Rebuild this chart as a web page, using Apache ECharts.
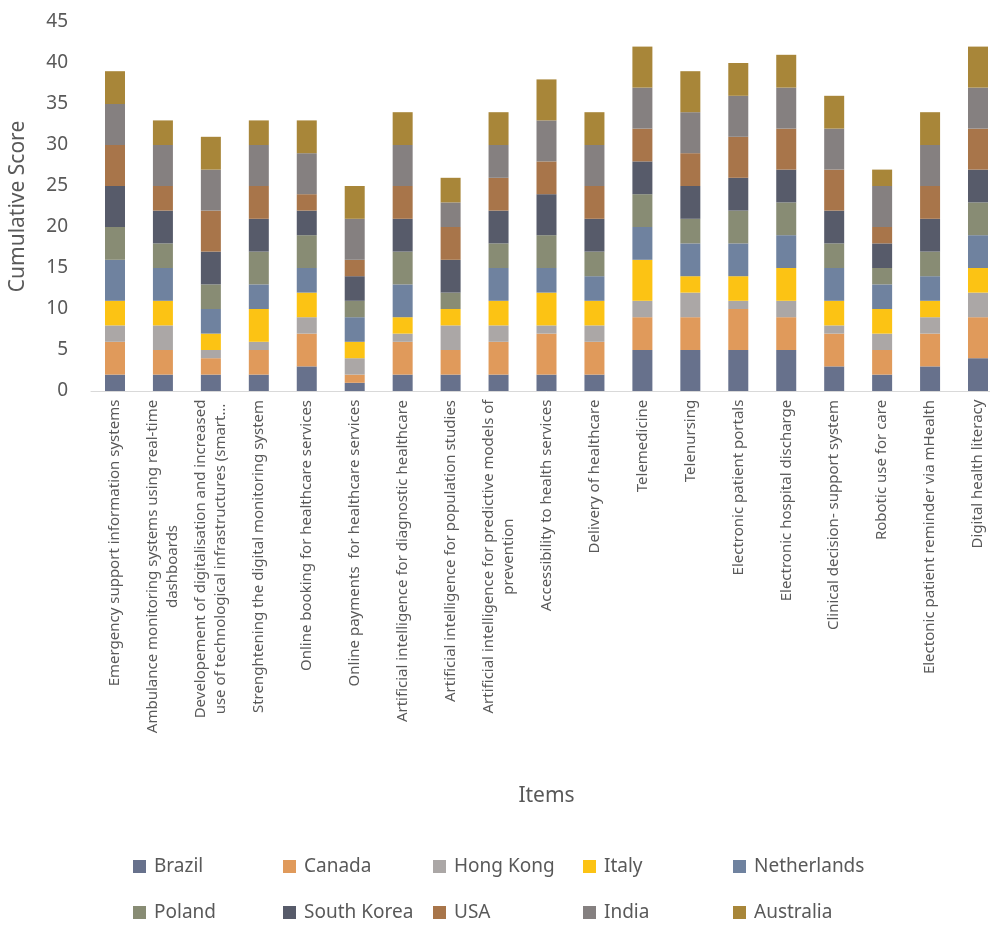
<!DOCTYPE html>
<html><head><meta charset="utf-8">
<script src="https://cdn.jsdelivr.net/npm/echarts@6/dist/echarts.min.js"></script>
<style>html,body{margin:0;padding:0;background:#fff;overflow:hidden}#c{width:1002px;height:927px}</style>
</head><body><div id="c"></div>
<script>
const categories = [
  "Emergency support information systems",
  "Ambulance monitoring systems using real-time\ndashboards",
  "Developement of digitalisation and increased\nuse of technological infrastructures (smart\u2026",
  "Strenghtening the digital monitoring system",
  "Online booking for healthcare services",
  "Online payments  for healthcare services",
  "Artificial intelligence for diagnostic healthcare",
  "Artificial intelligence for population studies",
  "Artificial intelligence for predictive models of\nprevention",
  "Accessibility to health services",
  "Delivery of healthcare",
  "Telemedicine",
  "Telenursing",
  "Electronic patient portals",
  "Electronic hospital discharge",
  "Clinical decision- support system",
  "Robotic use for care",
  "Electonic patient reminder via mHealth",
  "Digital health literacy"
];
const seriesNames = ["Brazil","Canada","Hong Kong","Italy","Netherlands","Poland","South Korea","USA","India","Australia"];
const brazil      = [2,2,2,2,3,1,2,2,2,2,2,5,5,5,5,3,2,3,4];
const canada      = [4,3,2,3,4,1,4,3,4,5,4,4,4,5,4,4,3,4,5];
const hongKong    = [2,3,1,1,2,2,1,3,2,1,2,2,3,1,2,1,2,2,3];
const italy       = [3,3,2,4,3,2,2,2,3,4,3,5,2,3,4,3,3,2,3];
const netherlands = [5,4,3,3,3,3,4,0,4,3,3,4,4,4,4,4,3,3,4];
const poland      = [4,3,3,4,4,2,4,2,3,4,3,4,3,4,4,3,2,3,4];
const southKorea  = [5,4,4,4,3,3,4,4,4,5,4,4,4,4,4,4,3,4,4];
const usa         = [5,3,5,4,2,2,4,4,4,4,4,4,4,5,5,5,2,4,5];
const india       = [5,5,5,5,5,5,5,3,4,5,5,5,5,5,5,5,5,5,5];
const australia   = [4,3,4,3,4,4,4,3,4,5,4,5,5,4,4,4,2,4,5];
const yTicks = [0,5,10,15,20,25,30,35,40,45];

const seriesData = [brazil,canada,hongKong,italy,netherlands,poland,southKorea,usa,india,australia];
const colors = ["#67718c","#e09a5b","#aba7a6","#fcc314","#6f829f","#888c74","#575b6a","#a8754a","#858080","#a88639"];
const FONT = '"Noto Sans", "Open Sans", sans-serif';
const TXT = '#595959';
const LBL_SIZE = 15;

// centred multi-line category labels via rich text
const cv = document.createElement('canvas').getContext('2d');
cv.font = LBL_SIZE + 'px "Noto Sans"';
const rich = {};
categories.forEach((c, i) => {
  const w = Math.max(...c.split('\n').map(l => cv.measureText(l).width));
  rich['c' + i] = {width: Math.ceil(w) + 1, align: 'center', fontSize: LBL_SIZE, fontFamily: FONT, color: TXT, lineHeight: 20};
});

const chart = echarts.init(document.getElementById('c'));
chart.setOption({
  animation: false,
  backgroundColor: '#fff',
  color: colors,
  grid: {left: 90, top: 22, right: 0, bottom: 536, containLabel: false},
  legend: seriesNames.map((n, j) => ({
    left: 133 + 150 * (j % 5), top: 857 + 46 * Math.floor(j / 5),
    itemWidth: 13, itemHeight: 13, icon: 'rect', selectedMode: false, padding: 0,
    data: [n],
    textStyle: {fontSize: 19, color: TXT, fontFamily: FONT, padding: [0, 0, 0, 3]}
  })),
  xAxis: {
    type: 'category', data: categories,
    name: 'Items', nameLocation: 'middle', nameGap: 395,
    nameTextStyle: {fontSize: 21, color: TXT, fontFamily: FONT},
    axisLine: {lineStyle: {color: '#d9d9d9', width: 1}},
    axisTick: {show: false},
    axisLabel: {
      interval: 0, rotate: 90, margin: 8,
      formatter: (v, i) => v.split('\n').map(l => '{c' + i + '|' + l + '}').join('\n'),
      rich: rich, fontSize: LBL_SIZE, fontFamily: FONT, color: TXT, lineHeight: 20
    }
  },
  yAxis: {
    type: 'value', min: 0, max: 45, interval: 5,
    name: 'Cumulative Score', nameLocation: 'middle', nameGap: 62,
    nameTextStyle: {fontSize: 21, color: TXT, fontFamily: FONT},
    axisLine: {show: false}, axisTick: {show: false},
    splitLine: {show: false},
    axisLabel: {fontSize: 19, color: TXT, fontFamily: FONT, margin: 23,
      formatter: v => yTicks.includes(v) ? String(v) : ''}
  },
  series: seriesNames.map((n, j) => ({
    name: n, type: 'bar', stack: 'total', barWidth: 20,
    data: seriesData[j],
    itemStyle: {color: colors[j]}
  }))
});
</script></body></html>
